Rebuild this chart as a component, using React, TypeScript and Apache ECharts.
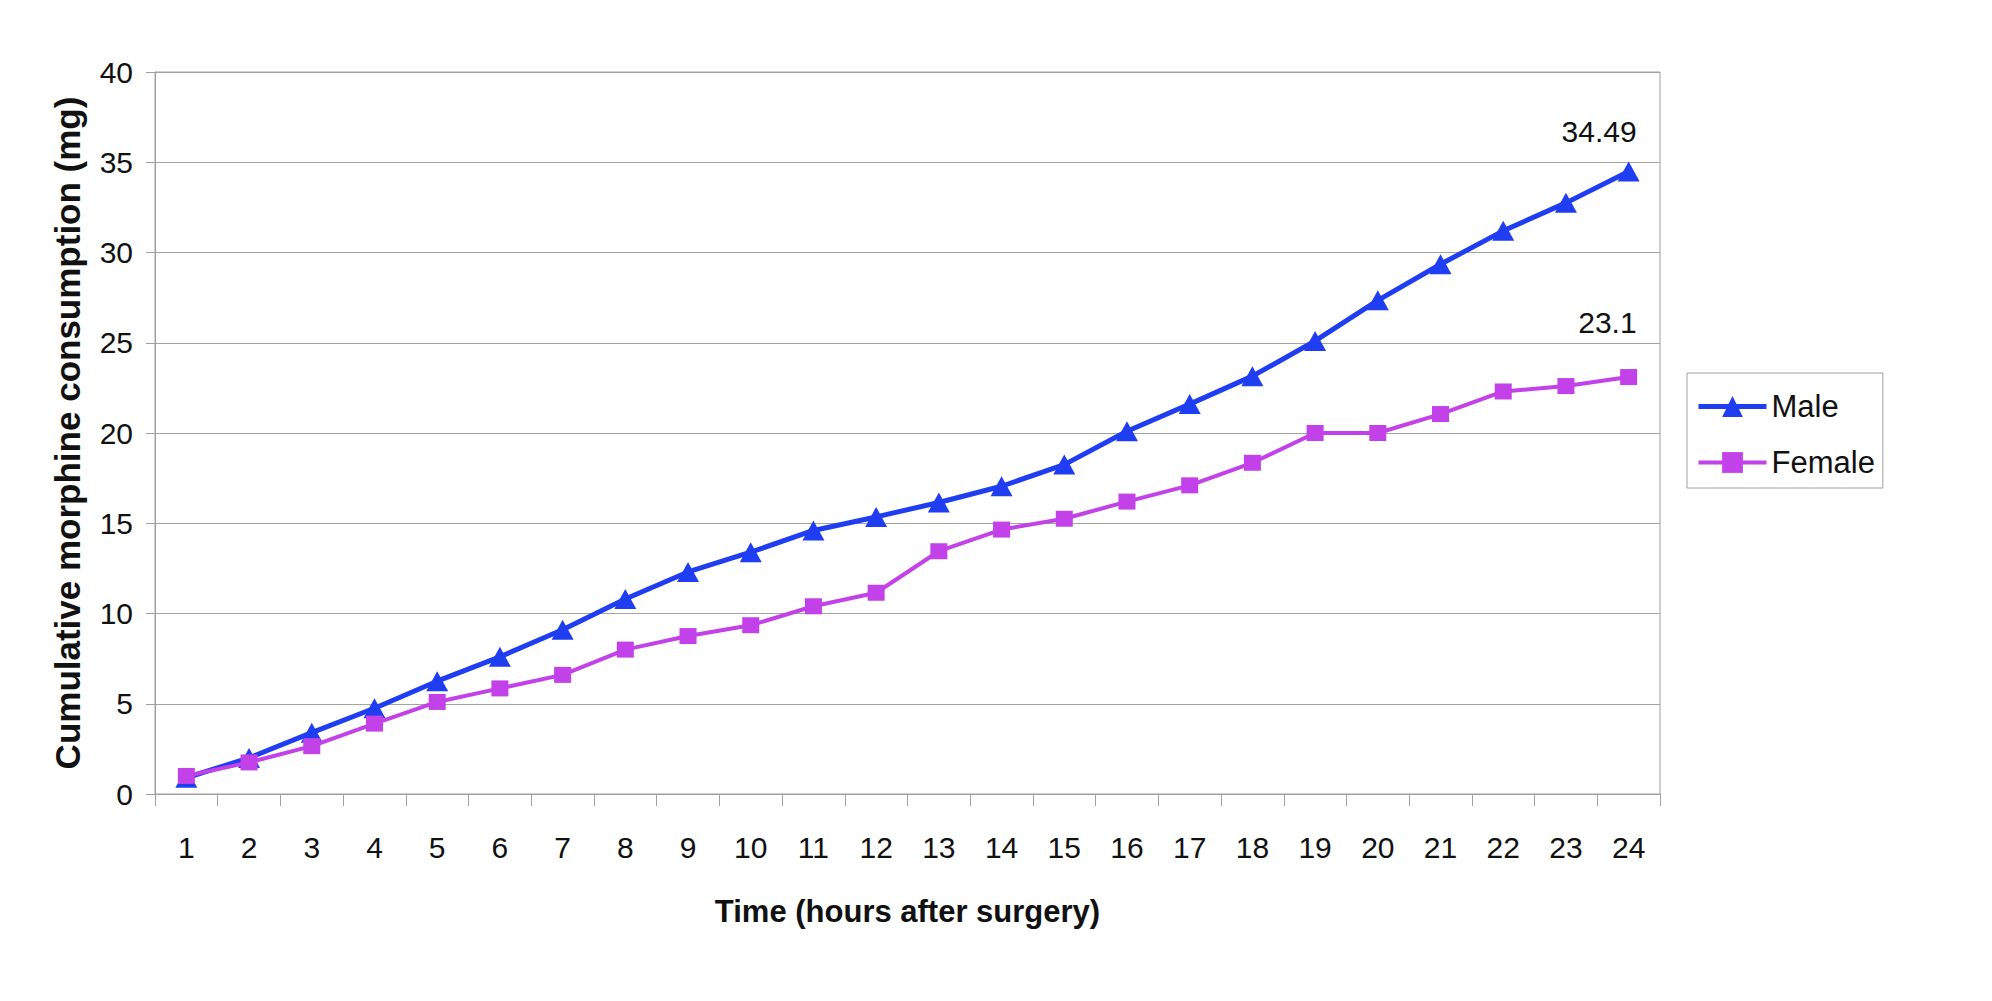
import React, { useEffect, useRef } from "react";
import * as echarts from "echarts";

const hours = ["1","2","3","4","5","6","7","8","9","10","11","12","13","14","15","16","17","18","19","20","21","22","23","24"];
const maleValues = [0.9, 2.0, 3.4, 4.75, 6.25, 7.6, 9.1, 10.8, 12.3, 13.4, 14.6, 15.35, 16.15, 17.05, 18.25, 20.1, 21.6, 23.15, 25.1, 27.35, 29.35, 31.2, 32.75, 34.49];
const femaleValues = [1.0, 1.75, 2.65, 3.9, 5.1, 5.85, 6.6, 8.0, 8.75, 9.35, 10.4, 11.15, 13.45, 14.65, 15.25, 16.2, 17.1, 18.35, 20.0, 20.0, 21.05, 22.3, 22.6, 23.1];
const yTicks = { min: 0, max: 40, interval: 5 };

const FONT = "'Liberation Sans', Arial, sans-serif";
const MALE_COLOR = "#1F3EF2";
const FEMALE_COLOR = "#C241E8";

function withEndLabel(values: number[], offsetY: number) {
  return values.map((v, i) =>
    i === values.length - 1
      ? {
          value: v,
          label: {
            show: true,
            position: "top",
            align: "right",
            offset: [8, offsetY],
            fontFamily: FONT,
            fontSize: 30,
            color: "#111",
            formatter: String(v),
          },
        }
      : v
  );
}

export default function App() {
  const ref = useRef<HTMLDivElement>(null);
  useEffect(() => {
    document.body.style.margin = "0";
    const chart = echarts.init(ref.current!, null, { renderer: "svg" });
    chart.setOption({
      animation: false,
      backgroundColor: "#ffffff",
      textStyle: { fontFamily: FONT },
      grid: {
        left: 155,
        right: 332,
        top: 72,
        bottom: 207,
        containLabel: false,
        show: true,
        borderColor: "#a0a0a0",
        borderWidth: 1,
      },
      legend: {
        orient: "vertical",
        left: 1687,
        top: 373,
        itemWidth: 68,
        itemHeight: 26,
        itemGap: 25,
        padding: [18, 8, 10, 9],
        borderColor: "#a0a0a0",
        borderWidth: 1,
        textStyle: { fontFamily: FONT, fontSize: 31, color: "#111" },
        data: [
          { name: "Male", lineStyle: { width: 5, color: MALE_COLOR } },
          { name: "Female", lineStyle: { width: 4, color: FEMALE_COLOR } },
        ],
      },
      xAxis: {
        type: "category",
        data: hours,
        boundaryGap: true,
        name: "Time (hours after surgery)",
        nameLocation: "middle",
        nameGap: 102,
        nameTextStyle: { fontFamily: FONT, fontSize: 31, fontWeight: "bold", color: "#111" },
        axisLine: { show: true, lineStyle: { color: "#a0a0a0", width: 1 } },
        axisTick: { show: true, length: 12, alignWithLabel: false, lineStyle: { color: "#a0a0a0" } },
        axisLabel: { fontFamily: FONT, fontSize: 30, color: "#111", margin: 38, interval: 0 },
        splitLine: { show: false },
      },
      yAxis: {
        type: "value",
        min: yTicks.min,
        max: yTicks.max,
        interval: yTicks.interval,
        name: "Cumulative morphine consumption (mg)",
        nameLocation: "middle",
        nameGap: 70,
        nameTextStyle: { fontFamily: FONT, fontSize: 35, fontWeight: "bold", color: "#111" },
        axisLine: { show: true, lineStyle: { color: "#a0a0a0", width: 1 } },
        axisTick: { show: true, length: 9, lineStyle: { color: "#a0a0a0" } },
        axisLabel: { fontFamily: FONT, fontSize: 30, color: "#111", margin: 22 },
        splitLine: { show: true, lineStyle: { color: "#a4a4a4", width: 1 } },
      },
      series: [
        {
          name: "Male",
          type: "line",
          data: withEndLabel(maleValues, -10),
          symbol: "triangle",
          symbolSize: [22, 20],
          itemStyle: { color: MALE_COLOR },
          lineStyle: { color: MALE_COLOR, width: 5 },
          z: 3,
        },
        {
          name: "Female",
          type: "line",
          data: withEndLabel(femaleValues, -27),
          symbol: "rect",
          symbolSize: [17, 16],
          itemStyle: { color: FEMALE_COLOR },
          lineStyle: { color: FEMALE_COLOR, width: 4 },
          z: 4,
        },
      ],
    });
    return () => chart.dispose();
  }, []);
  return <div ref={ref} style={{ width: 1992, height: 1001 }} />;
}
